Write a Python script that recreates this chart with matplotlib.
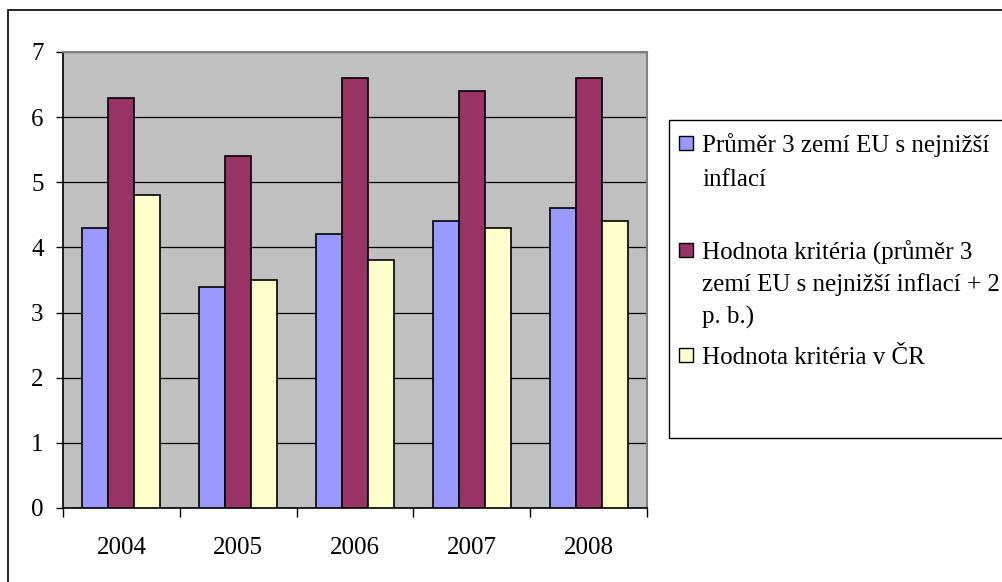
import numpy as np
import matplotlib.pyplot as plt
from matplotlib.patches import Rectangle

plt.rcParams['font.family'] = ['Liberation Serif', 'DejaVu Serif']

roky = ['2004', '2005', '2006', '2007', '2008']
prumer_eu = [4.3, 3.4, 4.2, 4.4, 4.6]
kriterium = [6.3, 5.4, 6.6, 6.4, 6.6]
kriterium_cr = [4.8, 3.5, 3.8, 4.3, 4.4]

nazvy = [['Průměr 3 zemí EU s nejnižší', 'inflací'],
         ['Hodnota kritéria (průměr 3', 'zemí EU s nejnižší inflací + 2', 'p. b.)'],
         ['Hodnota kritéria v ČR']]
barvy = ['#9999FF', '#993366', '#FFFFCC']

W, H = 1002, 582
fig = plt.figure(figsize=(W / 100, H / 100), dpi=100)
ax = fig.add_axes([63 / W, 1 - 508 / H, 584 / W, 456 / H])
ax.set_facecolor('#C0C0C0')

x = np.arange(len(roky))
sirka = 0.2222
for i, hodnoty in enumerate([prumer_eu, kriterium, kriterium_cr]):
    ax.bar(x - 0.3333 + i * sirka, hodnoty, width=sirka, align='edge',
           color=barvy[i], edgecolor='black', linewidth=1.2, zorder=3)

ax.set_xlim(-0.5, len(roky) - 0.5)
ax.set_ylim(0, 7)
ax.set_yticks(range(8))
ax.yaxis.grid(True, color='black', linewidth=0.9, zorder=1)

# ticky na hranicich kategorii, popisky uprostred
ax.set_xticks(np.arange(-0.5, len(roky)), minor=False)
ax.set_xticklabels([])
ax.set_xticks(x, minor=True)
ax.set_xticklabels(roky, minor=True, fontsize=18)
ax.tick_params(axis='x', which='major', length=6.5, width=1, direction='out')
ax.tick_params(axis='x', which='minor', length=0, pad=21)
ax.tick_params(axis='y', length=5, width=1, labelsize=18, pad=9)

for s in ['top', 'right']:
    ax.spines[s].set_color('#808080')
    ax.spines[s].set_linewidth(1.5)
ax.spines['left'].set_linewidth(1.2)
ax.spines['bottom'].set_linewidth(1.2)

# vnejsi ramecek grafu
fig.add_artist(Rectangle((8 / W, -0.1), 1.2, 1 - 10 / H + 0.1,
                         transform=fig.transFigure, fill=False,
                         edgecolor='black', linewidth=1.2))

# legenda
fig.add_artist(Rectangle((669 / W, 1 - 438 / H), 1.0, (438 - 120) / H,
                         transform=fig.transFigure, facecolor='white',
                         edgecolor='black', linewidth=1.0))
radky_y = [[143, 177], [250, 282, 315], [355]]
for radky, barva, ys in zip(nazvy, barvy, radky_y):
    fig.add_artist(Rectangle((679 / W, 1 - (ys[0] + 7) / H), 14 / W, 14 / H,
                             transform=fig.transFigure, facecolor=barva,
                             edgecolor='black', linewidth=1.0))
    for radek, yy in zip(radky, ys):
        fig.text(702 / W, 1 - yy / H, radek, fontsize=18,
                 va='center_baseline', ha='left')

fig.savefig('out.png', dpi=100)
